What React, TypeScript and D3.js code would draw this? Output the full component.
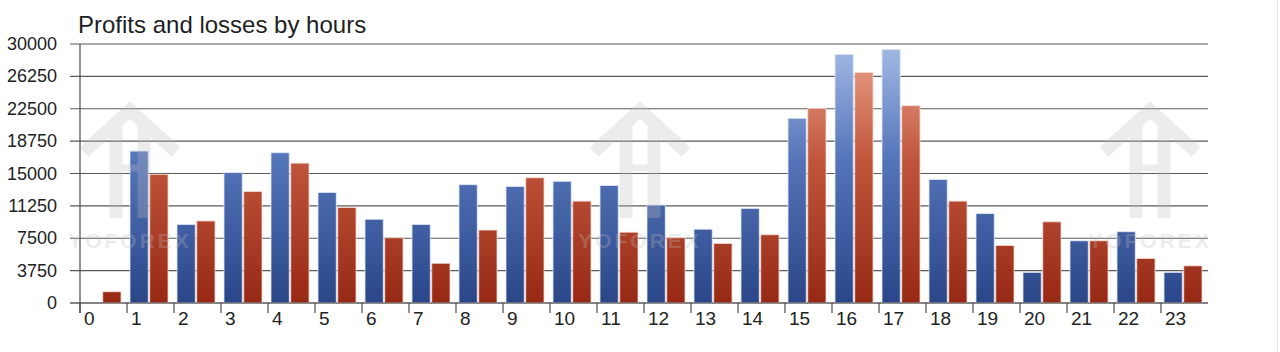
import React from "react";
import * as d3 from "d3";

const hours = d3.range(0, 24).map(String);
const profits = [0, 17600, 9100, 15100, 17400, 12800, 9700, 9100, 13700, 13500, 14100, 13600, 11350, 8550, 10950, 21400, 28800, 29350, 14300, 10350, 3550, 7200, 8250, 3550];
const losses = [1300, 14900, 9500, 12900, 16200, 11050, 7550, 4600, 8450, 14500, 11800, 8200, 7550, 6900, 7900, 22550, 26700, 22850, 11800, 6650, 9400, 7200, 5150, 4300];
const yTicks = d3.range(0, 30001, 3750);
const watermarkAt = [130, 640, 1150];

const W = 1280;
const H = 352;
const left = 80;
const right = 1208;
const top = 44;
const bottom = 303;

const FONT = "'Liberation Sans', Arial, sans-serif";

const x = d3.scaleBand().domain(hours).range([left, right]).padding(0);
const inner = d3.scaleBand().domain(["p", "l"]).range([3, 41]).paddingInner(0.08);
const y = d3.scaleLinear().domain([0, 30000]).range([bottom, top]);

function Watermark({ cx }: { cx: number }) {
  // rough house/arrow logo with the site name below it
  const roof = d3.line()([
    [cx - 46, 152], [cx, 110], [cx + 46, 152]
  ]);
  return (
    <g opacity={0.28} fill="none" stroke="#bdbdbd" strokeWidth={13}>
      <path d={roof || ""} />
      <line x1={cx - 14} y1={124} x2={cx - 14} y2={218} />
      <line x1={cx + 14} y1={124} x2={cx + 14} y2={218} />
      <line x1={cx - 14} y1={168} x2={cx + 14} y2={168} strokeWidth={7} />
      <text
        x={cx}
        y={248}
        textAnchor="middle"
        stroke="none"
        fill="#bdbdbd"
        fontFamily={FONT}
        fontWeight="bold"
        fontSize={21}
        letterSpacing={3}
      >
        YOFOREX
      </text>
    </g>
  );
}

export default function App() {
  return (
    <svg
      width={W}
      height={H}
      style={{ position: "absolute", left: 0, top: 0, background: "#fff" }}
    >
      <defs>
        <linearGradient id="blueFill" gradientUnits="userSpaceOnUse" x1={0} y1={bottom} x2={0} y2={top}>
          <stop offset="0" stopColor="#2a4688" />
          <stop offset="0.55" stopColor="#5474b9" />
          <stop offset="1" stopColor="#a4bbe6" />
        </linearGradient>
        <linearGradient id="redFill" gradientUnits="userSpaceOnUse" x1={0} y1={bottom} x2={0} y2={top}>
          <stop offset="0" stopColor="#972914" />
          <stop offset="0.55" stopColor="#c0553b" />
          <stop offset="1" stopColor="#eba58f" />
        </linearGradient>
      </defs>

      <line x1={1277.5} y1={0} x2={1277.5} y2={H} stroke="#e4e4e4" />

      <text x={78} y={33} fontFamily={FONT} fontSize={24} fill="#1e1e1e">
        Profits and losses by hours
      </text>

      {/* gridlines + y labels */}
      {yTicks.map((t) => (
        <g key={t}>
          <line x1={70} x2={right} y1={y(t)} y2={y(t)} stroke="#5a5a5a" strokeWidth={1.2} />
          <text
            x={57}
            y={y(t) + 6}
            textAnchor="end"
            fontFamily={FONT}
            fontSize={18}
            fill="#222"
          >
            {t}
          </text>
        </g>
      ))}

      {/* bars */}
      {hours.map((h, i) => (
        <g key={h} transform={`translate(${x(h)},0)`}>
          {profits[i] > 0 && (
            <rect
              x={inner("p")}
              y={y(profits[i])}
              width={inner.bandwidth()}
              height={bottom - y(profits[i])}
              fill="url(#blueFill)"
              stroke="#dfe6f5"
              strokeWidth={0.8}
            />
          )}
          <rect
            x={inner("l")}
            y={y(losses[i])}
            width={inner.bandwidth()}
            height={bottom - y(losses[i])}
            fill="url(#redFill)"
            stroke="#f3d8cf"
            strokeWidth={0.8}
          />
        </g>
      ))}

      {/* axes */}
      <line x1={left} x2={left} y1={top} y2={313} stroke="#4a4a4a" strokeWidth={1.2} />
      <line x1={70} x2={right} y1={bottom} y2={bottom} stroke="#5a5a5a" strokeWidth={1.2} />
      {hours.map((h) => (
        <g key={h}>
          <line x1={x(h)} x2={x(h)} y1={bottom} y2={313} stroke="#4a4a4a" strokeWidth={1.2} />
          <text x={(x(h) || 0) + 4} y={325} fontFamily={FONT} fontSize={19} fill="#222">
            {h}
          </text>
        </g>
      ))}

      {watermarkAt.map((cx) => (
        <Watermark key={cx} cx={cx} />
      ))}
    </svg>
  );
}
